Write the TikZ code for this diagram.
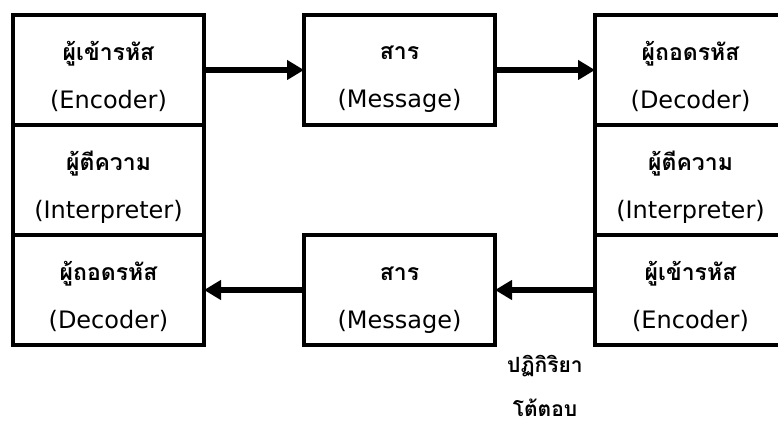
\documentclass[tikz,border=0pt]{standalone}
\usepackage{fontspec}
\setmainfont{DejaVu Sans}
\newfontfamily\thaifont[Script=Thai]{Loma}
\usetikzlibrary{positioning,arrows.meta}

\newcommand{\twoline}[2]{{\thaifont\bfseries\fontsize{23}{28}\selectfont\rule{0pt}{33pt}#1}\\#2}

\begin{document}
\begin{tikzpicture}[x=1pt, y=1pt, node distance=0pt and 100pt,
	box/.style={rectangle, draw, line width=4pt, minimum width=191pt, minimum height=110pt,
		align=center, font=\fontsize{24}{48}\selectfont, inner sep=0pt, outer sep=0pt},
	thai/.style={font=\thaifont\bfseries\fontsize{21}{44}\selectfont},
	flow/.style={line width=5.5pt, -{Triangle[length=17pt, width=19pt]}}]
	\useasboundingbox (0,0) rectangle (778,428);
	\clip (0,0) rectangle (778,428);

	\node[box] (encL) at (108.5,358) {\twoline{ผู้เข้ารหัส}{(Encoder)}};
	\node[box] (intL) [below=of encL] {\twoline{ผู้ตีความ}{(Interpreter)}};
	\node[box] (decL) [below=of intL] {\twoline{ผู้ถอดรหัส}{(Decoder)}};

	\node[box] (msgA) [right=of encL] {\twoline{สาร}{(Message)}};
	\node[box] (msgB) [right=of decL] {\twoline{สาร}{(Message)}};

	\node[box] (decR) [right=of msgA] {\twoline{ผู้ถอดรหัส}{(Decoder)}};
	\node[box] (intR) [below=of decR] {\twoline{ผู้ตีความ}{(Interpreter)}};
	\node[box] (encR) [below=of intR] {\twoline{ผู้เข้ารหัส}{(Encoder)}};

	\node[thai, align=center] (reply) at (545,42) {ปฏิกิริยา\\โต้ตอบ};

	\draw[flow] (encL) -- (msgA);
	\draw[flow] (msgA) -- (decR);
	\draw[flow] (encR) -- (msgB);
	\draw[flow] (msgB) -- (decL);

\end{tikzpicture}
\end{document}
